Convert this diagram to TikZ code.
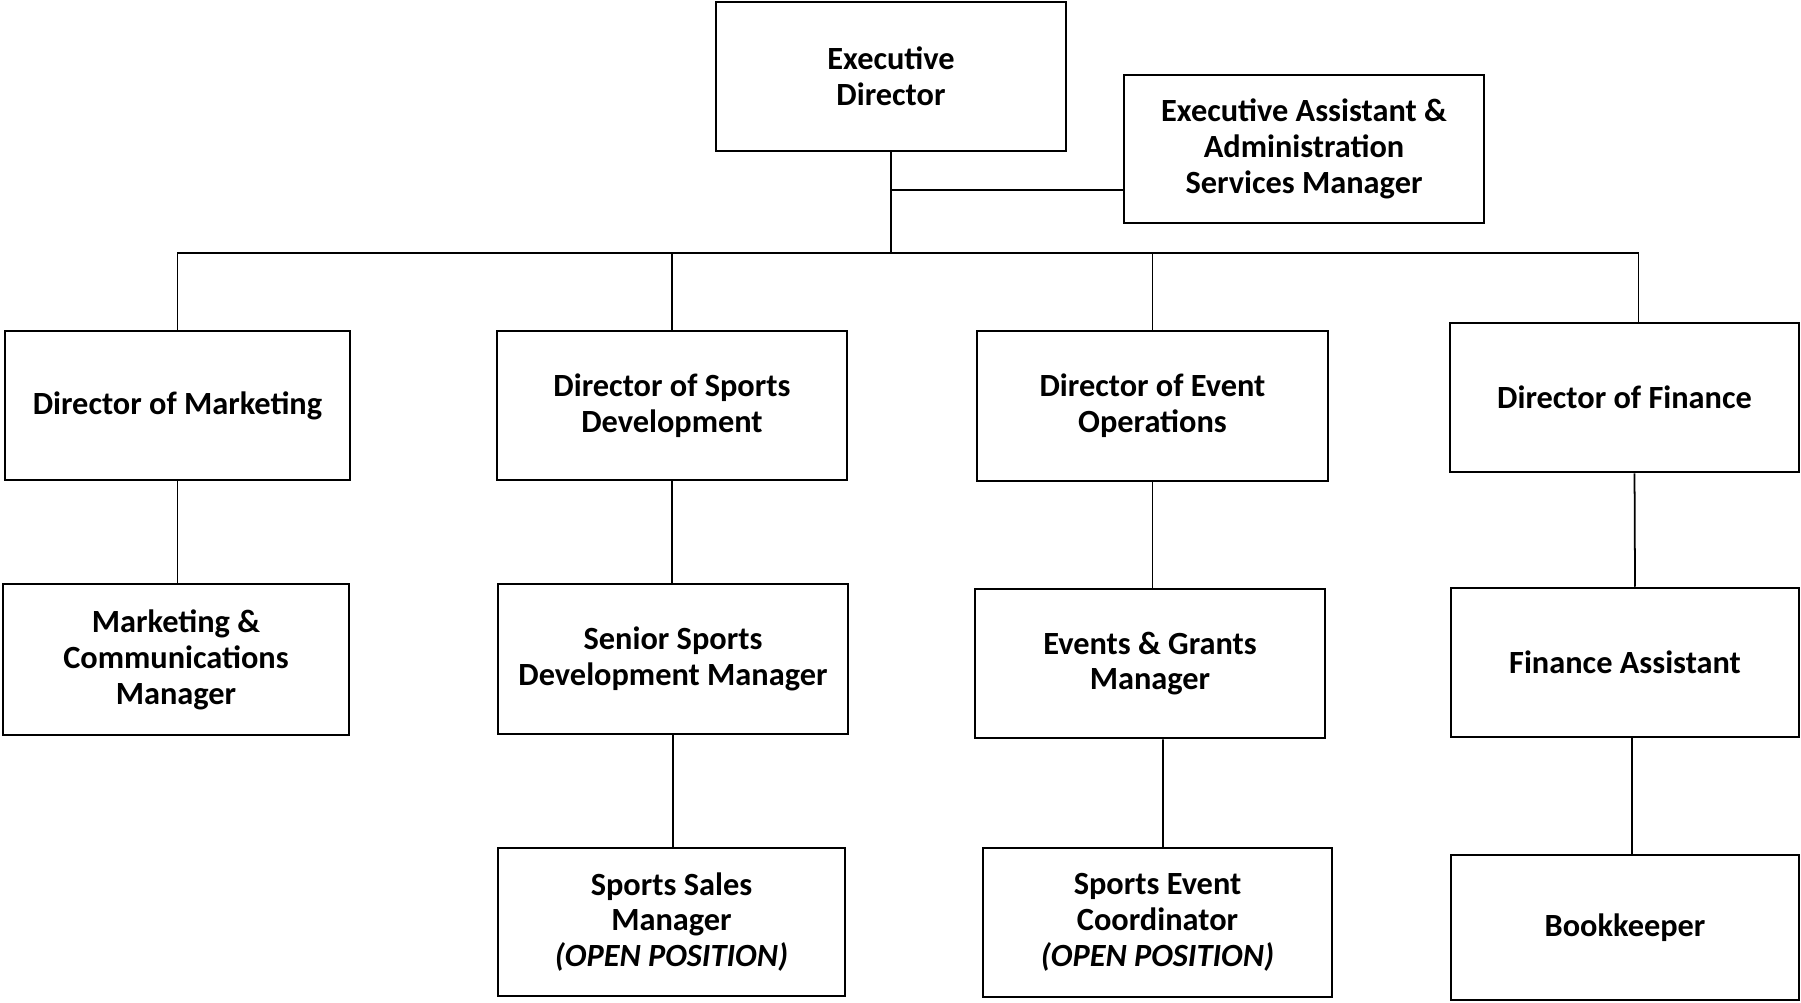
\documentclass[tikz,border=0pt]{standalone}
\usepackage{fontspec}
\setmainfont{Carlito}

\tikzset{
  role/.style={draw, line width=0.7pt, minimum width=3.5cm, minimum height=1.49cm,
    inner sep=0pt, align=center, font=\fontsize{9.2pt}{10.2pt}\selectfont\bfseries},
  link/.style={line width=0.5pt}
}

\begin{document}
\begin{tikzpicture}[x=0.01cm, y=-0.01cm]
	\useasboundingbox (0,0) rectangle (1801,1002);

	\node[role] (ed) at (891,76.5) {Executive\\Director};
	\node[role, minimum width=3.6cm, minimum height=1.48cm] (ea) at (1304,149) {Executive Assistant \&\\Administration\\Services Manager};

	\node[role, minimum width=3.45cm] (dm) at (177.5,405.5) {Director of Marketing};
	\node[role] (dsd) at (672,405.5) {Director of Sports\\Development};
	\node[role, minimum width=3.51cm, minimum height=1.5cm] (deo) at (1152.5,406) {Director of Event\\Operations};
	\node[role, minimum width=3.49cm] (df) at (1624.5,397.5) {Director of Finance};

	\node[role, minimum width=3.46cm, minimum height=1.51cm] (mcm) at (176,659.5) {Marketing \&\\Communications\\Manager};
	\node[role, minimum height=1.5cm] (ssdm) at (673,659) {Senior Sports\\Development Manager};
	\node[role] (egm) at (1150,663.5) {Events \& Grants\\Manager};
	\node[role, minimum width=3.48cm] (fa) at (1625,662.5) {Finance Assistant};

	\node[role, minimum width=3.47cm, minimum height=1.48cm] (ssm) at (671.5,922) {Sports Sales\\Manager\\\textit{(OPEN POSITION)}};
	\node[role, minimum width=3.49cm] (sec) at (1157.5,922.5) {Sports Event\\Coordinator\\\textit{(OPEN POSITION)}};
	\node[role, minimum width=3.48cm, minimum height=1.45cm] (bk) at (1625,927.5) {Bookkeeper};

	\coordinate (tap) at (891,190);
	\coordinate (bus) at (891,253);

	\draw[link] (ed.south) -- (bus);
	\draw[link] (tap) -- (tap -| ea.west);
	\draw[link] (dm.north) |- (bus) -| ([xshift=1.4mm]df.north);
	\draw[link] (dsd.north) -- (dsd.north |- bus);
	\draw[link] (deo.north) -- (deo.north |- bus);

	\draw[link] (dm.south) -- (dm.south |- mcm.north);
	\draw[link] (dsd.south) -- (dsd.south |- ssdm.north);
	\draw[link] (ssdm.south) -- (ssdm.south |- ssm.north);
	\draw[link] (deo.south) -- (deo.south |- egm.north);
	\draw[link] ([xshift=1.3mm]egm.south) -- ([xshift=0.55mm]sec.north);
	\draw[link] ([xshift=1mm]df.south) -- ([xshift=1mm]fa.north);
	\draw[link] ([xshift=0.7mm]fa.south) -- ([xshift=0.7mm]bk.north);
\end{tikzpicture}
\end{document}
